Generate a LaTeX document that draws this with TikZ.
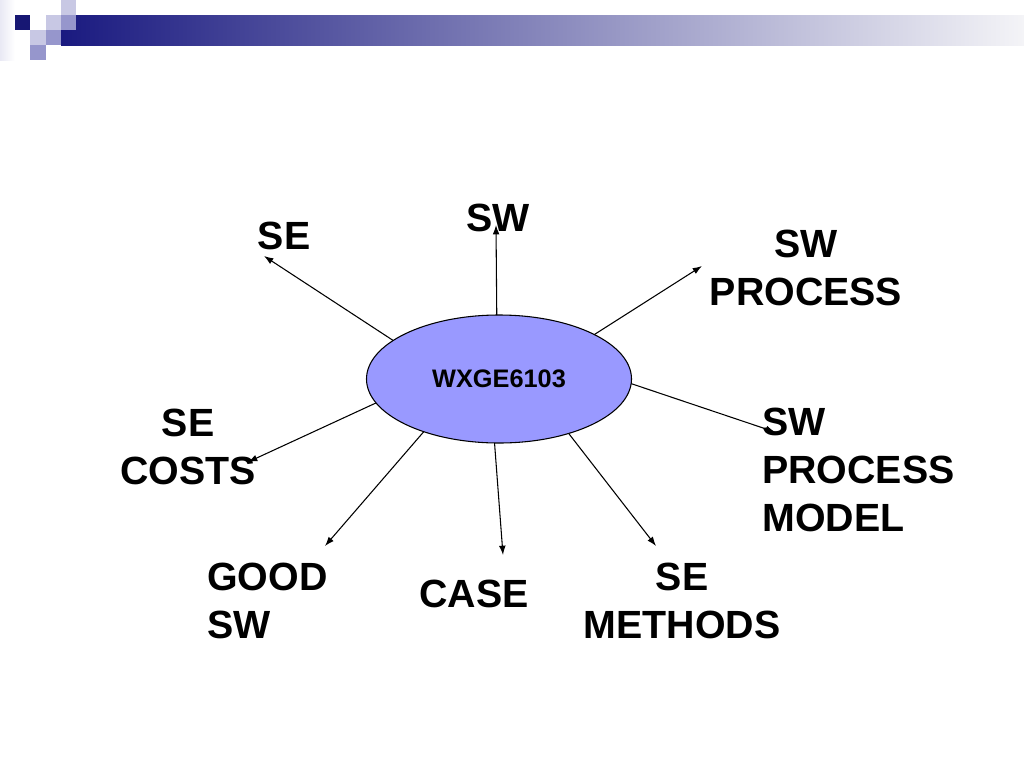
\documentclass[tikz,border=0pt]{standalone}
\usepackage{fontspec}
\setmainfont{Liberation Sans}
\usetikzlibrary{positioning, shapes.geometric, arrows.meta, calc}

\definecolor{hubfill}{RGB}{153,153,255}
\definecolor{barnavy}{RGB}{26,26,128}
\definecolor{barmid}{RGB}{160,160,186}
\definecolor{barend}{RGB}{244,244,247}
\definecolor{sqlight}{RGB}{200,200,228}
\definecolor{sqmid}{RGB}{150,150,204}

\begin{document}
\begin{tikzpicture}[
    x=0.75pt, y=-0.75pt,
    >=Latex,
    arrow/.style={
        -{Latex[length=7pt,width=5pt]},
        line width=0.8pt
    },
    hub/.style={
        ellipse,
        fill=hubfill,
        draw,
        line width=0.8pt,
        minimum width=265*0.75pt,
        minimum height=128*0.75pt,
        inner sep=0pt,
        outer sep=0pt,
        font=\fontsize{19}{22}\selectfont\bfseries
    },
    topic/.style={ % Label round the hub
        inner sep=0pt,
        align=center,
        font=\fontsize{29.5}{36}\selectfont\bfseries
    },
    topicleft/.style={
        topic,
        align=left,
        anchor=west
    },
    tile/.style={
        fill=#1,
        draw=none
    }
]
    \useasboundingbox (0,0) rectangle (1024,768);

    % Header bar and tiles
    \fill[left color=sqlight!40, right color=white] (0,0) rectangle (15,60);
    \shade[left color=barnavy, middle color=barmid, right color=barend] (61,15) rectangle (1024,45);
    \fill[tile=barnavy!90!black] (15,15) rectangle (30,30);
    \fill[tile=sqlight] (46,15) rectangle (61,30);
    \fill[tile=sqlight] (61,0) rectangle (76,15);
    \fill[tile=sqmid] (61,15) rectangle (76,30);
    \fill[tile=sqlight] (30,30) rectangle (46,45);
    \fill[tile=sqmid] (46,30) rectangle (61,45);
    \fill[tile=sqmid] (30,45) rectangle (46,60);

    % Hub
    \node[hub] (hub) at (499,379) {WXGE6103};

    % Labels
    \node[topic] (sw) at (498,218) {SW};
    \node[topic] (se) at (284,236) {SE};
    \node[topic] (swproc) at (806,268) {SW\\PROCESS};
    \node[topicleft] (swmodel) at (762,470) {SW\\PROCESS\\MODEL};
    \node[topic] (secosts) at (188,447) {SE\\COSTS};
    \node[topicleft] (goodsw) at (207,601) {GOOD\\SW};
    \node[topic] (case) at (474,594) {CASE};
    \node[topic] (semeth) at (682,601) {SE\\METHODS};

    % Arrow tips
    \coordinate (tipsw) at (496,225);
    \coordinate (tipse) at (264,256);
    \coordinate (tipswproc) at (702,266);
    \coordinate (tipswmodel) at (775,432);
    \coordinate (tipsecosts) at (248,462);
    \coordinate (tipgoodsw) at (325,546);
    \coordinate (tipcase) at (503,555);
    \coordinate (tipsemeth) at (656,546);

    \draw[arrow] (hub.92) -- (tipsw);
    \draw[arrow] (hub.160) -- (tipse);
    \draw[arrow] (hub.25) -- (tipswproc);
    \draw[arrow] (hub.-2) -- (tipswmodel);
    \draw[arrow] (hub.191) -- (tipsecosts);
    \draw[arrow] (hub.215) -- (tipgoodsw);
    \draw[arrow] (hub.266) -- (tipcase);
    \draw[arrow] (hub.322) -- (tipsemeth);

\end{tikzpicture}
\end{document}
